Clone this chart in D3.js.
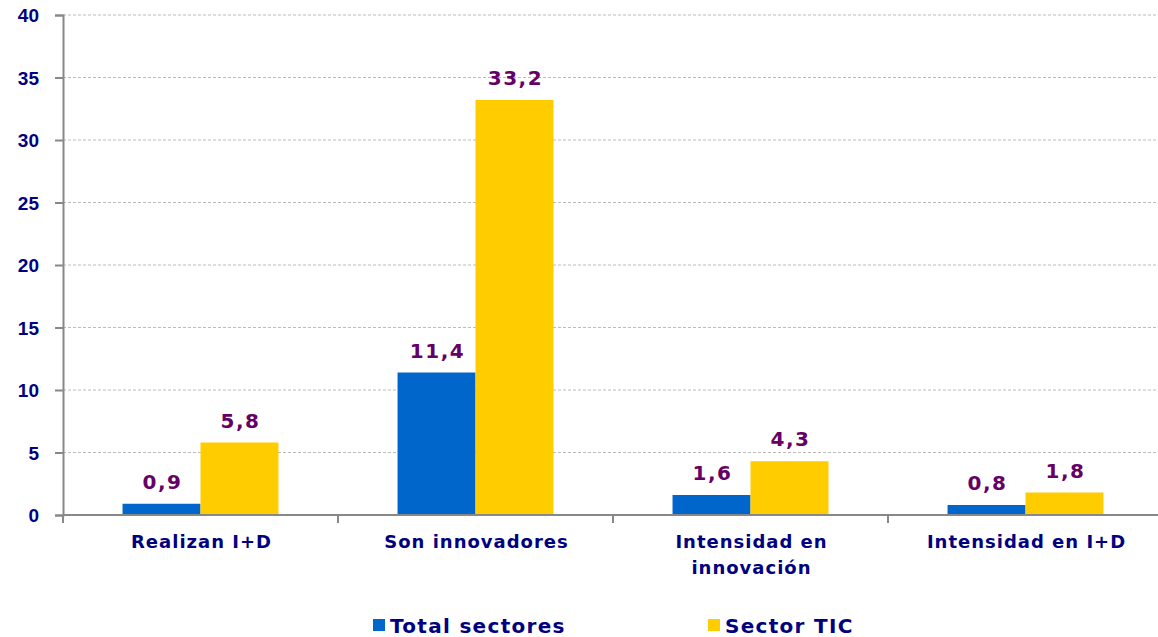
<!DOCTYPE html>
<html>
<head>
<meta charset="utf-8">
<script src="https://cdn.jsdelivr.net/npm/d3@7"></script>
<style>
  body { margin: 0; background: #fff; }
  svg { display: block; font-family: "DejaVu Sans", Verdana, sans-serif; font-weight: bold; }
  .grid line { stroke: #bbb; stroke-dasharray: 3,2; }
  .axis path, .axis line { stroke: #888; stroke-width: 2; }
</style>
</head>
<body>
<div id="chart"></div>
<script>
"use strict";

const categories = [["Realizan I+D"], ["Son innovadores"], ["Intensidad en", "innovación"], ["Intensidad en I+D"]];
const seriesNames = ["Total sectores", "Sector TIC"];
const totalSectores = [0.9, 11.4, 1.6, 0.8];
const sectorTIC = [5.8, 33.2, 4.3, 1.8];
const yTicks = [0, 5, 10, 15, 20, 25, 30, 35, 40];
const colors = ["#0066CC", "#FFCC00"];

const width = 1158, height = 637;
const margin = {top: 15, right: -5, bottom: 122, left: 63};
const innerW = width - margin.left - margin.right;
const innerH = height - margin.top - margin.bottom;

const rows = categories.map((c, i) => ({key: i, label: c, values: [totalSectores[i], sectorTIC[i]]}));

const svg = d3.select("#chart").append("svg")
    .attr("width", width)
    .attr("height", height);

const g = svg.append("g")
    .attr("transform", "translate(" + margin.left + "," + margin.top + ")");

const x0 = d3.scaleBand()
    .domain(rows.map(d => d.key))
    .range([0, innerW])
    .paddingInner(0)
    .paddingOuter(0);

const groupW = x0.bandwidth() * 0.567;
const x1 = d3.scaleBand()
    .domain([0, 1])
    .range([0, groupW]);

const y = d3.scaleLinear()
    .domain([0, 40])
    .range([innerH, 0]);

// grid
g.append("g")
    .attr("class", "grid")
    .selectAll("line")
    .data(yTicks.filter(t => t > 0))
    .join("line")
    .attr("x1", 0)
    .attr("x2", innerW)
    .attr("y1", d => y(d))
    .attr("y2", d => y(d));

// bars
const groups = g.append("g")
    .selectAll("g")
    .data(rows)
    .join("g")
    .attr("transform", d => "translate(" + (x0(d.key) + (x0.bandwidth() - groupW) / 2) + ",0)");

groups.selectAll("rect")
    .data(d => d.values.map((v, j) => ({j, v})))
    .join("rect")
    .attr("x", d => x1(d.j))
    .attr("width", x1.bandwidth())
    .attr("y", d => y(d.v))
    .attr("height", d => innerH - y(d.v))
    .attr("fill", d => colors[d.j]);

groups.selectAll("text")
    .data(d => d.values.map((v, j) => ({j, v})))
    .join("text")
    .attr("x", d => x1(d.j) + x1.bandwidth() / 2 + 1)
    .attr("y", d => y(d.v) - 15)
    .attr("text-anchor", "middle")
    .attr("fill", "#660066")
    .style("font-size", "20px")
    .style("letter-spacing", "1.5px")
    .text(d => d3.format(".1f")(d.v).replace(".", ","));

// y axis
const yAxis = g.append("g")
    .attr("class", "axis")
    .call(d3.axisLeft(y).tickValues(yTicks).tickSize(8).tickPadding(16));
yAxis.selectAll("text")
    .attr("fill", "#000080")
    .style("font-size", "19px")
    .attr("font-family", null)
    .attr("dy", "0.36em");

// x axis
const xAxis = g.append("g")
    .attr("class", "axis")
    .attr("transform", "translate(0," + innerH + ")")
    .call(d3.axisBottom(x0).tickSize(0).tickFormat(""));
xAxis.select(".domain").attr("d", "M0,0H" + innerW);

xAxis.selectAll(".sep")
    .data(d3.range(rows.length + 1))
    .join("line")
    .attr("class", "sep")
    .attr("x1", i => i * x0.step())
    .attr("x2", i => i * x0.step())
    .attr("y1", 0)
    .attr("y2", 8);

const catLabels = g.append("g")
    .selectAll("text")
    .data(rows)
    .join("text")
    .attr("x", d => x0(d.key) + x0.bandwidth() / 2 + 1)
    .attr("y", innerH + 33)
    .attr("text-anchor", "middle")
    .attr("fill", "#000080")
    .style("font-size", "18px")
    .style("letter-spacing", "1px");

catLabels.selectAll("tspan")
    .data(d => d.label)
    .join("tspan")
    .attr("x", function () { return this.parentNode.getAttribute("x"); })
    .attr("dy", (d, i) => i === 0 ? 0 : 26)
    .text(d => d);

// legend
const legendX = [373, 708];
const legend = svg.append("g")
    .selectAll("g")
    .data(seriesNames)
    .join("g")
    .attr("transform", (d, i) => "translate(" + legendX[i] + ",619)");

legend.append("rect")
    .attr("width", 12)
    .attr("height", 12)
    .attr("fill", (d, i) => colors[i]);

legend.append("text")
    .attr("x", 17)
    .attr("y", 14)
    .attr("fill", "#000080")
    .style("font-size", "20px")
    .style("letter-spacing", "1.3px")
    .text(d => d);
</script>
</body>
</html>
